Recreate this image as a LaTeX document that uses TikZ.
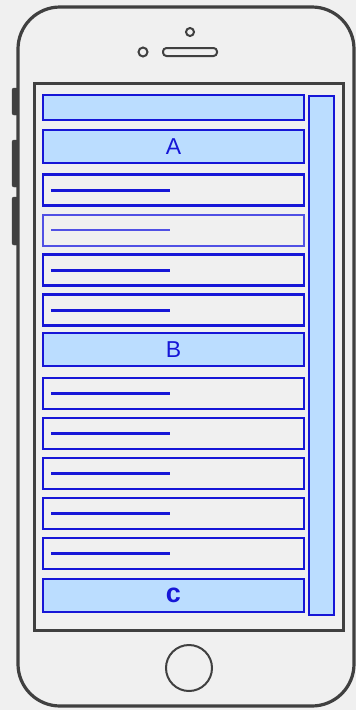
\documentclass[tikz,border=0pt]{standalone}
\usepackage{fontspec}
\setmainfont{Liberation Sans}
\usepackage{tikz}
\usetikzlibrary{positioning,calc}
\definecolor{Paper}{RGB}{240,240,240}
\definecolor{Case}{RGB}{64,64,64}
\definecolor{Frame}{RGB}{22,22,215}
\definecolor{FrameLight}{RGB}{80,80,228}
\definecolor{Tint}{RGB}{187,221,255}
\tikzset{
  casing/.style={draw=Case,line width=3.2pt,fill=Paper,rounded corners=42pt},
  sidekey/.style={fill=Case,draw=Case,rounded corners=2pt},
  screen/.style={draw=Case,line width=3pt,fill=Paper},
  optic/.style={circle,draw=Case,line width=2pt,inner sep=0pt},
  speaker/.style={draw=Case,line width=2pt,rounded corners=3.5pt,minimum width=54pt,minimum height=8pt,inner sep=0pt},
  header/.style={draw=Frame,line width=2.5pt,fill=Tint,minimum width=261pt,inner sep=0pt,text=Frame,font=\fontsize{23}{23}\selectfont},
  item/.style={draw=Frame,line width=2.5pt,fill=Paper,minimum width=261pt,minimum height=31pt,inner sep=0pt},
  itemline/.style={draw=Frame,line width=3pt},
  scrollbar/.style={draw=Frame,line width=2.5pt,fill=Tint,minimum width=25pt,minimum height=519pt,inner sep=0pt}
}
\begin{document}
\begin{tikzpicture}[x=1pt,y=-1pt]
\useasboundingbox[fill=Paper] (0,0) rectangle (356,710);

\draw[sidekey] (12,88) rectangle (20,115);
\draw[sidekey] (12,140) rectangle (20,187);
\draw[sidekey] (12,197) rectangle (20,245);
\draw[casing] (18,7) rectangle (354,706);
\draw[screen] (34,83) rectangle (343,630);

\node[optic,minimum size=8pt] (camera) at (190,32) {};
\node[optic,minimum size=9pt] (sensor) at (143,52) {};
\node[speaker] (earpiece) at (190,52) {};
\node[optic,minimum size=46pt] (home) at (189,668) {};

\node[scrollbar] (scroll) at (321.5,355.5) {};

\node[header,minimum height=25pt] (top) at (173.5,107.5) {};
\node[header,minimum height=33pt] (A) at (173.5,146.5) {A};
\node[item] (r1) at (173.5,190) {};
\node[item,draw=FrameLight,line width=2pt] (r2) at (173.5,230) {};
\node[item] (r3) at (173.5,270) {};
\node[item] (r4) at (173.5,310) {};
\node[header,minimum height=33pt] (B) at (173.5,349.5) {B};
\node[item] (r5) at (173.5,393.5) {};
\node[item] (r6) at (173.5,433.5) {};
\node[item,line width=2pt] (r7) at (173.5,473.5) {};
\node[item,line width=2pt] (r8) at (173.5,513.5) {};
\node[item] (r9) at (173.5,553.5) {};
\node[header,minimum height=33pt,font=\bfseries\fontsize{27}{27}\selectfont] (C) at (173.5,595.5) {c};

\draw[itemline] ([xshift=9pt]r1.west) -- ([xshift=128pt]r1.west);
\draw[itemline,draw=FrameLight,line width=2.4pt] ([xshift=9pt]r2.west) -- ([xshift=128pt]r2.west);
\draw[itemline] ([xshift=9pt]r3.west) -- ([xshift=128pt]r3.west);
\draw[itemline] ([xshift=9pt]r4.west) -- ([xshift=128pt]r4.west);
\draw[itemline] ([xshift=9pt]r5.west) -- ([xshift=128pt]r5.west);
\draw[itemline] ([xshift=9pt]r6.west) -- ([xshift=128pt]r6.west);
\draw[itemline,line width=2.5pt] ([xshift=9pt]r7.west) -- ([xshift=128pt]r7.west);
\draw[itemline,line width=2.5pt] ([xshift=9pt]r8.west) -- ([xshift=128pt]r8.west);
\draw[itemline] ([xshift=9pt]r9.west) -- ([xshift=128pt]r9.west);
\end{tikzpicture}
\end{document}
